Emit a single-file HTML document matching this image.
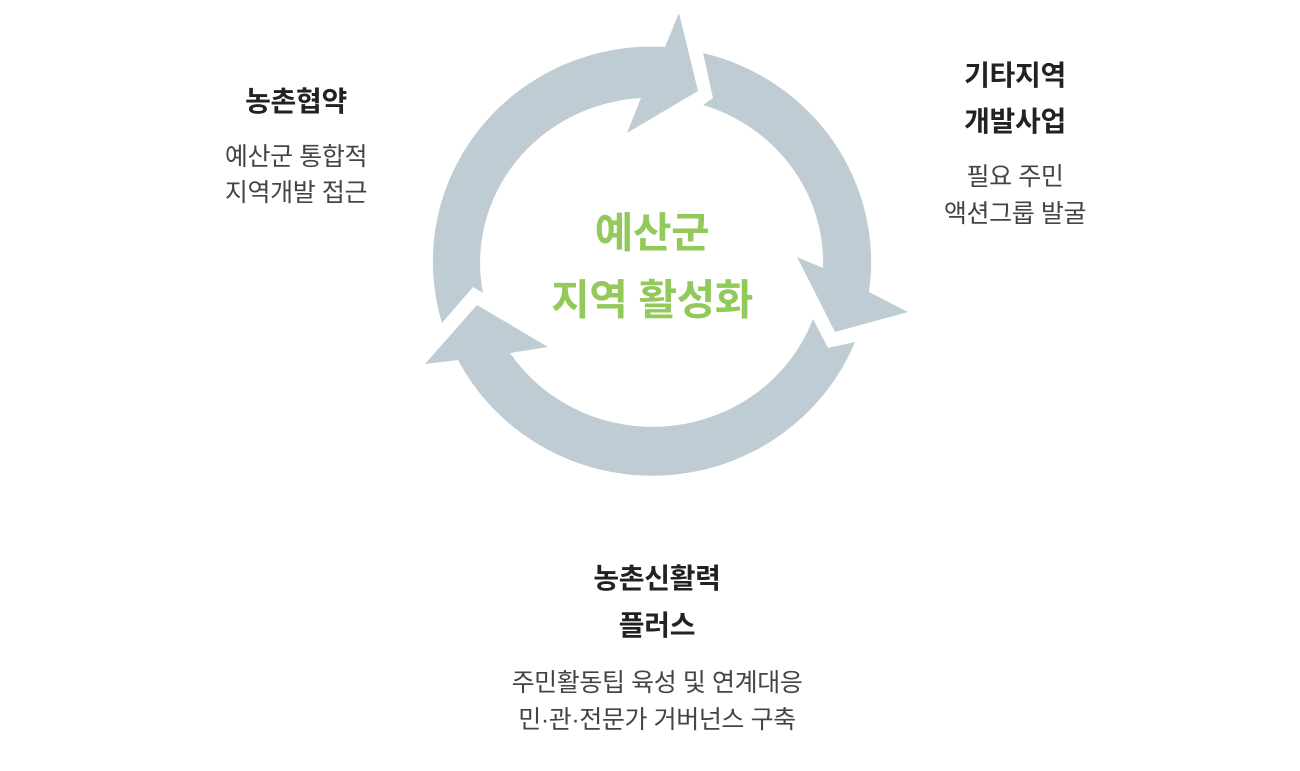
<!DOCTYPE html>
<html><head><meta charset="utf-8"><style>
html,body{margin:0;padding:0;background:#fff;width:1300px;height:771px;overflow:hidden;position:relative;font-family:"Liberation Sans","Noto Sans CJK KR",sans-serif}
.t{position:absolute;transform:translate(-50%,-50%);white-space:nowrap;text-align:center}
.h{font-size:28px;font-weight:bold;color:#222;letter-spacing:-0.3px}
.d{font-size:25px;color:#444;letter-spacing:-0.4px}
.c{font-size:42px;font-weight:bold;color:#92c95a;letter-spacing:-0.5px}
</style></head><body>
<svg width="1300" height="771" style="position:absolute;left:0;top:0">
<g fill="#bfccd4">
<path d="M442,323 A219,215 0 0 1 665,47 L679,13 L698,91 L627,133 L641,98 A171,165 0 0 0 483,293 L473,287 Z"/>
<path d="M703,53 L713,98 L703,105 A171,165 0 0 1 823,268 L797,257 L835,332 L908,312 L869,292 A219,215 0 0 0 703,53 Z"/>
<path d="M855,342 L828,348 L813,319 A171,165 0 0 1 510,353 L548,347 L477,305 L425,364 L458,360 A219,215 0 0 0 855,342 Z"/>
</g></svg>
<div class="t c" style="left:652px;top:230px">예산군</div>
<div class="t c" style="left:652px;top:297px">지역 활성화</div>
<div class="t h" style="left:296px;top:100px">농촌협약</div>
<div class="t d" style="left:296px;top:155px">예산군 통합적</div>
<div class="t d" style="left:296px;top:191px">지역개발 접근</div>
<div class="t h" style="left:1015px;top:74px">기타지역</div>
<div class="t h" style="left:1015px;top:120px">개발사업</div>
<div class="t d" style="left:1015px;top:175px">필요 주민</div>
<div class="t d" style="left:1015px;top:212px">액션그룹 발굴</div>
<div class="t h" style="left:657px;top:577px">농촌신활력</div>
<div class="t h" style="left:657px;top:624px">플러스</div>
<div class="t d" style="left:657px;top:681px">주민활동팁 육성 및 연계대응</div>
<div class="t d" style="left:657px;top:718px">민·관·전문가 거버넌스 구축</div>
</body></html>
